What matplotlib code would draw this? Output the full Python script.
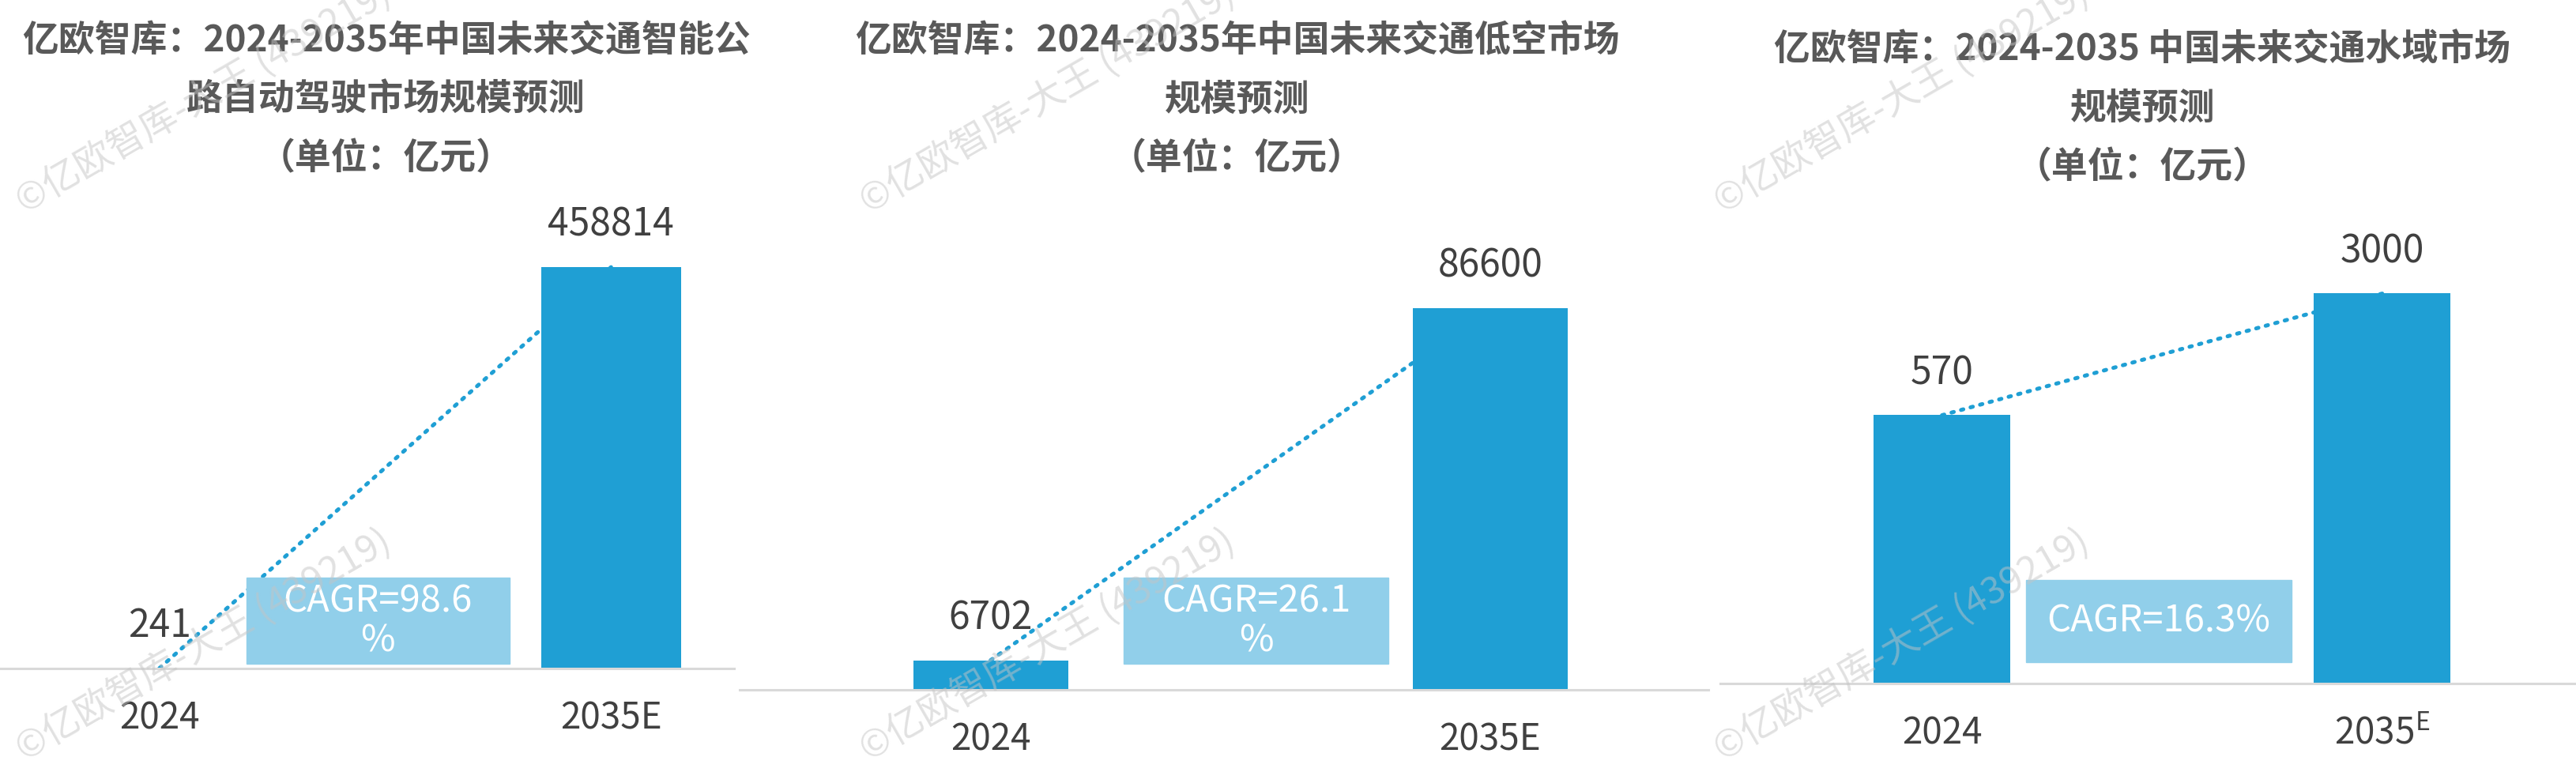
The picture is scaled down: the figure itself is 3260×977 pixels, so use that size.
import numpy as np
import matplotlib
matplotlib.use("Agg")
import matplotlib.pyplot as plt
from matplotlib.patches import Rectangle

plt.rcParams['font.family'] = ['Noto Sans CJK SC', 'DejaVu Sans']
plt.rcParams['mathtext.fontset'] = 'custom'
plt.rcParams['mathtext.rm'] = 'Noto Sans CJK SC'

# ---- data ----
years = ["2024", "2035E"]
years_water = ["2024", "2035$^{\\mathrm{E}}$"]
road_values = [241, 458814]
air_values = [6702, 86600]
water_values = [570, 3000]

titles = [
    "亿欧智库：2024-2035年中国未来交通智能公\n路自动驾驶市场规模预测\n（单位：亿元）",
    "亿欧智库：2024-2035年中国未来交通低空市场\n规模预测\n（单位：亿元）",
    "亿欧智库：2024-2035 中国未来交通水域市场\n规模预测\n（单位：亿元）",
]
cagr_labels = ["CAGR=98.6\n%", "CAGR=26.1\n%", "CAGR=16.3%"]
watermark = "©亿欧智库-大王 (439219)"

BAR = "#1f9fd4"
BOX = "#91cfea"
GRID = "#d9d9d9"
DARK = "#404040"
TITLE = "#595959"

W, H = 1568.0, 470.0  # layout reference size


def fx(x):
    return x / W


def fy(y):
    return 1 - y / H


fig = plt.figure(figsize=(32.6, 9.78), dpi=100)

# panel layout in reference px: left, right, baseline; plus axis limits
panels = [
    dict(l=0, r=447, base=407, xlim=(-0.353, 1.273), ylim=(0, 502000),
         vals=road_values, labels=years, box=(150, 310, 352, 404), tx=235, ty=22),
    dict(l=450, r=1040, base=420, xlim=(-0.503, 1.437), ylim=(0, 104500),
         vals=air_values, labels=years, box=(684, 845, 352, 404), tx=753, ty=22),
    dict(l=1047, r=1568, base=416, xlim=(-0.504, 1.44), ylim=(-4782, 4281),
         vals=water_values, labels=years_water, box=(1233, 1395, 353, 403), tx=1304, ty=27),
]

for i, p in enumerate(panels):
    top = 140
    ax = fig.add_axes([fx(p['l']), fy(p['base']), fx(p['r'] - p['l']), (p['base'] - top) / H])
    ax.set_xlim(*p['xlim'])
    ax.set_ylim(*p['ylim'])
    bottom = p['ylim'][0]
    x = np.arange(len(p['vals']))
    vals = np.array(p['vals'], dtype=float)
    ax.bar(x, vals - bottom, bottom=bottom, width=0.31, color=BAR, zorder=2)
    ax.plot(x, vals, linestyle=(0, (0.6, 1.9)), color=BAR, lw=3.6,
            dash_capstyle='round', zorder=1)
    for xi, v in zip(x, p['vals']):
        ax.annotate(str(v), xy=(xi, v), xytext=(0, 39), textcoords='offset points',
                    ha='center', va='center', fontsize=34.5, color=DARK)
    for xi, lab in zip(x, p['labels']):
        ax.annotate(lab, xy=(xi, 0), xycoords=('data', 'axes fraction'),
                    xytext=(0, -45), textcoords='offset points',
                    ha='center', va='center', fontsize=33, color=DARK)
    for s in ['top', 'right', 'left']:
        ax.spines[s].set_visible(False)
    ax.spines['bottom'].set_color(GRID)
    ax.spines['bottom'].set_linewidth(2.2)
    ax.set_xticks([])
    ax.set_yticks([])
    ax.patch.set_alpha(0)

    bl, br, bt, bb = p['box']
    fig.patches.append(Rectangle((fx(bl), fy(bb)), fx(br - bl), (bb - bt) / H,
                                 transform=fig.transFigure, color=BOX, zorder=3))
    fig.text(fx((bl + br) / 2), fy((bt + bb) / 2), cagr_labels[i], ha='center', va='center',
             fontsize=34, color='white', linespacing=1.05, zorder=4)

    fig.text(fx(p['tx']), fy(p['ty'] - 8), titles[i], ha='center', va='top',
             fontsize=33, color=TITLE, weight='bold', linespacing=1.8)

# watermarks
for cx in [124, 638, 1158]:
    for cy in [60, 393]:
        fig.text(fx(cx), fy(cy), watermark, ha='center', va='center', rotation=30,
                 fontsize=34, color='#c4c4c4', alpha=0.5, weight='light', zorder=5)

fig.savefig("out.png", dpi=100)
